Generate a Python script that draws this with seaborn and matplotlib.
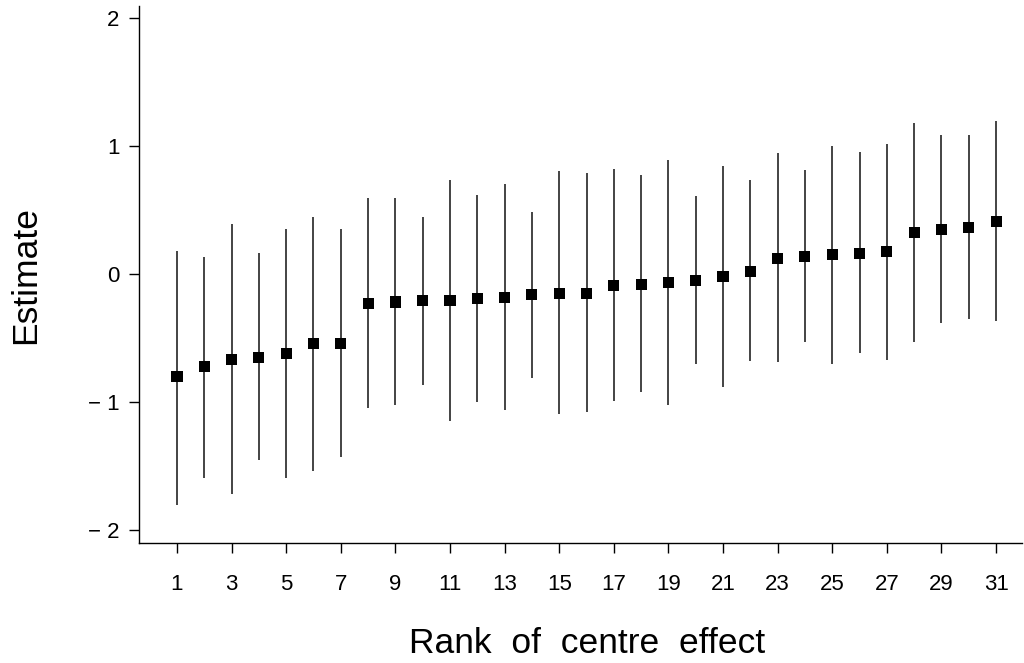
import matplotlib
matplotlib.use("Agg")
import matplotlib.pyplot as plt
import seaborn as sns
import pandas as pd

rank = list(range(1, 32))
estimate = [-0.80, -0.72, -0.67, -0.65, -0.62, -0.54, -0.54, -0.23, -0.22, -0.21,
            -0.21, -0.19, -0.185, -0.16, -0.15, -0.15, -0.09, -0.08, -0.07, -0.05,
            -0.02, 0.02, 0.12, 0.135, 0.15, 0.16, 0.175, 0.32, 0.345, 0.36, 0.41]
lower = [-1.80, -1.59, -1.72, -1.45, -1.59, -1.54, -1.43, -1.05, -1.02, -0.87,
         -1.15, -1.00, -1.06, -0.81, -1.09, -1.08, -0.99, -0.92, -1.02, -0.70,
         -0.88, -0.68, -0.69, -0.53, -0.70, -0.62, -0.67, -0.53, -0.38, -0.35, -0.37]
upper = [0.18, 0.13, 0.39, 0.16, 0.35, 0.445, 0.35, 0.59, 0.59, 0.445,
         0.73, 0.615, 0.70, 0.485, 0.80, 0.79, 0.82, 0.77, 0.89, 0.61,
         0.84, 0.73, 0.94, 0.81, 1.00, 0.95, 1.01, 1.18, 1.08, 1.08, 1.19]
x_ticks = list(range(1, 32, 2))
y_ticks = [-2, -1, 0, 1, 2]
y_tick_labels = ["\u2212 2", "\u2212 1", "0", "1", "2"]

df = pd.DataFrame({"rank": rank, "estimate": estimate, "lower": lower, "upper": upper})

sns.set_style("ticks")
plt.rcParams["font.family"] = ["Liberation Sans", "DejaVu Sans"]

fig = plt.figure(figsize=(10.24, 6.63), dpi=100)
ax = fig.add_axes([139 / 1024, 120 / 663, 883 / 1024, 537 / 663])

ax.vlines(df["rank"], df["lower"], df["upper"], color="#111111", lw=1.1, zorder=2)
sns.scatterplot(data=df, x="rank", y="estimate", marker="s", s=64, color="black",
                edgecolor="none", linewidth=0, ax=ax, zorder=3, legend=False)

ax.set_xlim(-0.39, 31.95)
ax.set_ylim(-2.10, 2.09)
ax.set_xticks(x_ticks)
ax.set_yticks(y_ticks)
ax.set_yticklabels(y_tick_labels)
ax.tick_params(axis="both", direction="out", length=7, width=1, color="black",
               labelsize=16, labelcolor="black")
ax.tick_params(axis="x", pad=15)
ax.tick_params(axis="y", pad=7)

for s in ["top", "right"]:
    ax.spines[s].set_visible(False)
for s in ["left", "bottom"]:
    ax.spines[s].set_color("black")
    ax.spines[s].set_linewidth(1)

ax.set_xlabel("Rank  of  centre  effect", fontsize=25.5, color="black")
ax.set_ylabel("Estimate", fontsize=25.5, color="black")
ax.xaxis.set_label_coords(0.508, -0.157)
ax.yaxis.set_label_coords(-0.11, 0.5)

fig.savefig("out.png", dpi=100)
